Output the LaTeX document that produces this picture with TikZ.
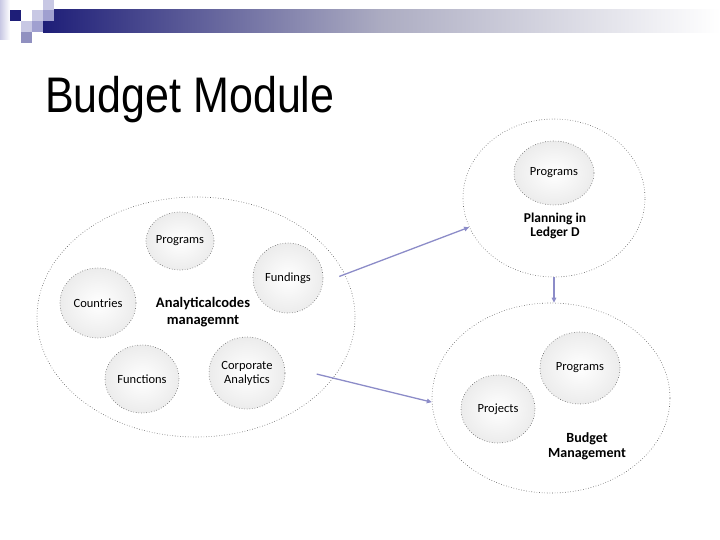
\documentclass[tikz,border=0pt]{standalone}
\usepackage{fontspec}
\setmainfont{Carlito}
\newfontfamily\titlefont{Liberation Sans}
\usetikzlibrary{shapes.geometric}
\usetikzlibrary{arrows.meta}

\definecolor{navybar}{RGB}{30,30,120}
\definecolor{barmid}{RGB}{172,172,194}
\definecolor{arrowblue}{RGB}{140,140,200}
\definecolor{sqlight}{RGB}{200,200,228}
\definecolor{sqmid}{RGB}{160,160,208}
\definecolor{sqdark}{RGB}{144,144,192}

\begin{document}
\begin{tikzpicture}[x=1pt, y=-1pt,
		group/.style={draw=gray!70!black, dotted, line width=0.6pt, ellipse, fill=white},
		item/.style={draw=gray!70!black, dotted, line width=0.6pt, ellipse, inner sep=0pt, align=center,
			shading=radial, inner color=white, outer color=gray!15, font=\fontsize{12.5}{14}\selectfont},
		caption/.style={font=\bfseries\fontsize{14.5}{16.5}\selectfont, align=center},
		arrow/.style={-{Triangle[length=5pt, width=4.5pt]}, draw=arrowblue, line width=1.3pt}
		]
		\useasboundingbox (0,0) rectangle (720,540);
		
		% Header bar
		\shade[left color=navybar, right color=white, middle color=barmid] (43,10) rectangle (720,33);
		\shade[left color=sqlight, right color=white] (0,0) rectangle (10,40);
		\fill[navybar] (10,10) rectangle (21,21);
		\fill[sqlight] (32,10) rectangle (43,21);
		\fill[sqlight] (43,0) rectangle (54,10);
		\fill[sqmid] (43,10) rectangle (54,21);
		\fill[sqlight] (21,21) rectangle (32,32);
		\fill[sqmid] (32,21) rectangle (43,32);
		\fill[sqdark] (21,32) rectangle (32,43);
		
		% Title
		\node[anchor=base west, inner sep=0pt] (title) at (45,113)
			{\titlefont\fontsize{50}{56}\selectfont\scalebox{0.86}[1]{Budget Module}};
		
		% Groups
		\node[group, minimum width=318, minimum height=240] (codes) at (196,317) {};
		\node[group, minimum width=182, minimum height=158] (planning) at (554,198) {};
		\node[group, minimum width=238, minimum height=190] (budget) at (551,398) {};
		
		% Items
		\node[item, minimum width=66, minimum height=58] (programsA) at (180,241) {Programs};
		\node[item, minimum width=70, minimum height=70] (fundings) at (288,278) {Fundings};
		\node[item, minimum width=76, minimum height=70] (countries) at (98,303) {Countries};
		\node[item, minimum width=74, minimum height=68] (functions) at (142,379) {Functions};
		\node[item, minimum width=76, minimum height=72] (corporate) at (247,373) {Corporate\\Analytics};
		\node[item, minimum width=80, minimum height=64] (programsB) at (554,173) {Programs};
		\node[item, minimum width=80, minimum height=72] (programsC) at (580,368) {Programs};
		\node[item, minimum width=74, minimum height=68] (projects) at (498,409) {Projects};
		
		% Captions
		\node[caption] (codeslabel) at (203,312) {Analyticalcodes\\managemnt};
		\node[caption, font=\bfseries\fontsize{13.5}{14.5}\selectfont] (planninglabel) at (555,226) {Planning in\\Ledger D};
		\node[caption, font=\bfseries\fontsize{14}{15}\selectfont] (budgetlabel) at (587,446) {Budget\\Management};
		
		% Arrows
		\draw[arrow, shorten <=-6pt] (codes.16) -- (planning.199);
		\draw[arrow, shorten <=-17pt] (codes.-24) -- (budget.182);
		\draw[arrow] (planning.south) -- (planning.south |- budget.north);
	\end{tikzpicture}
\end{document}
